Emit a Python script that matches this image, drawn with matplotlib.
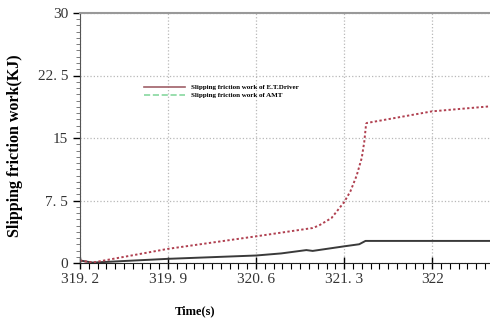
import matplotlib.pyplot as plt
from matplotlib.ticker import MultipleLocator

# time axis and the two work curves
amt_time = [319.2, 319.3, 319.9, 320.6, 321.05, 321.1, 321.2, 321.3, 321.35,
            321.4, 321.44, 321.46, 321.475, 321.48, 322.0, 322.46]
amt_work = [0.3, 0.05, 1.7, 3.2, 4.2, 4.5, 5.4, 7.3, 8.6, 10.5, 12.6, 14.5,
            16.7, 16.8, 18.2, 18.8]
driver_time = [319.2, 319.3, 319.9, 320.6, 320.8, 321.0, 321.05, 321.3,
               321.42, 321.47, 322.0, 322.46]
driver_work = [0.3, 0.05, 0.5, 0.9, 1.15, 1.55, 1.45, 2.0, 2.25, 2.65, 2.65,
               2.65]

x_ticks = [319.2, 319.9, 320.6, 321.3, 322.0]
x_labels = ["319. 2", "319. 9", "320. 6", "321. 3", "322"]
y_ticks = [0, 7.5, 15, 22.5, 30]
y_labels = ["0", "7. 5", "15", "22. 5", "30"]

serif = "Liberation Serif"

fig = plt.figure(figsize=(4.9, 3.25), dpi=100)
ax = fig.add_axes([80 / 490, 62 / 325, 410 / 490, 250 / 325])

ax.plot(driver_time, driver_work, color="#3a3a3a", lw=1.4)
ax.plot(amt_time, amt_work, color="#b04050", lw=1.4, ls=(0, (1.2, 1.2)))

# legend entries drawn as in the source figure
ax.plot([], [], color="#a06068", lw=1.2,
        label="Slipping friction work of E.T.Driver")
ax.plot([], [], color="#88d8a0", lw=1.2, ls="--",
        label="Slipping friction work of AMT")
ax.legend(loc="upper left", bbox_to_anchor=(0.14, 0.74), frameon=False,
          prop={"family": serif, "size": 5, "weight": "bold"},
          handlelength=6, labelspacing=0.3)

ax.set_xlim(319.2, 322.46)
ax.set_ylim(0, 30)
ax.set_xticks(x_ticks)
ax.set_xticklabels(x_labels, family=serif, fontsize=11, color="#333333")
ax.set_yticks(y_ticks)
ax.set_yticklabels(y_labels, family=serif, fontsize=11, color="#333333")
ax.xaxis.set_minor_locator(MultipleLocator(0.07))
ax.yaxis.set_minor_locator(MultipleLocator(0.75))
ax.tick_params(axis="x", which="major", direction="inout", length=8, width=1)
ax.tick_params(axis="x", which="minor", direction="out", length=4, width=0.8)
ax.tick_params(axis="y", which="major", direction="out", length=5, width=1)
ax.tick_params(axis="y", which="minor", direction="out", length=3, width=0.6,
               color="#666666")

ax.grid(True, which="major", color="#b8b8b8", ls=":", lw=0.9)
ax.spines["right"].set_visible(False)
ax.spines["top"].set_color("#999999")
ax.spines["top"].set_linewidth(1.5)
ax.spines["left"].set_color("#555555")
ax.spines["bottom"].set_color("#222222")

ax.set_xlabel("Time(s)", family=serif, fontsize=9, fontweight="bold")
ax.xaxis.set_label_coords(0.28, -0.17)
ax.set_ylabel("Slipping friction work(KJ)", family=serif, fontsize=11.5,
              fontweight="bold")
ax.yaxis.set_label_coords(-0.14, 0.47)

fig.savefig("out.png", dpi=100)
